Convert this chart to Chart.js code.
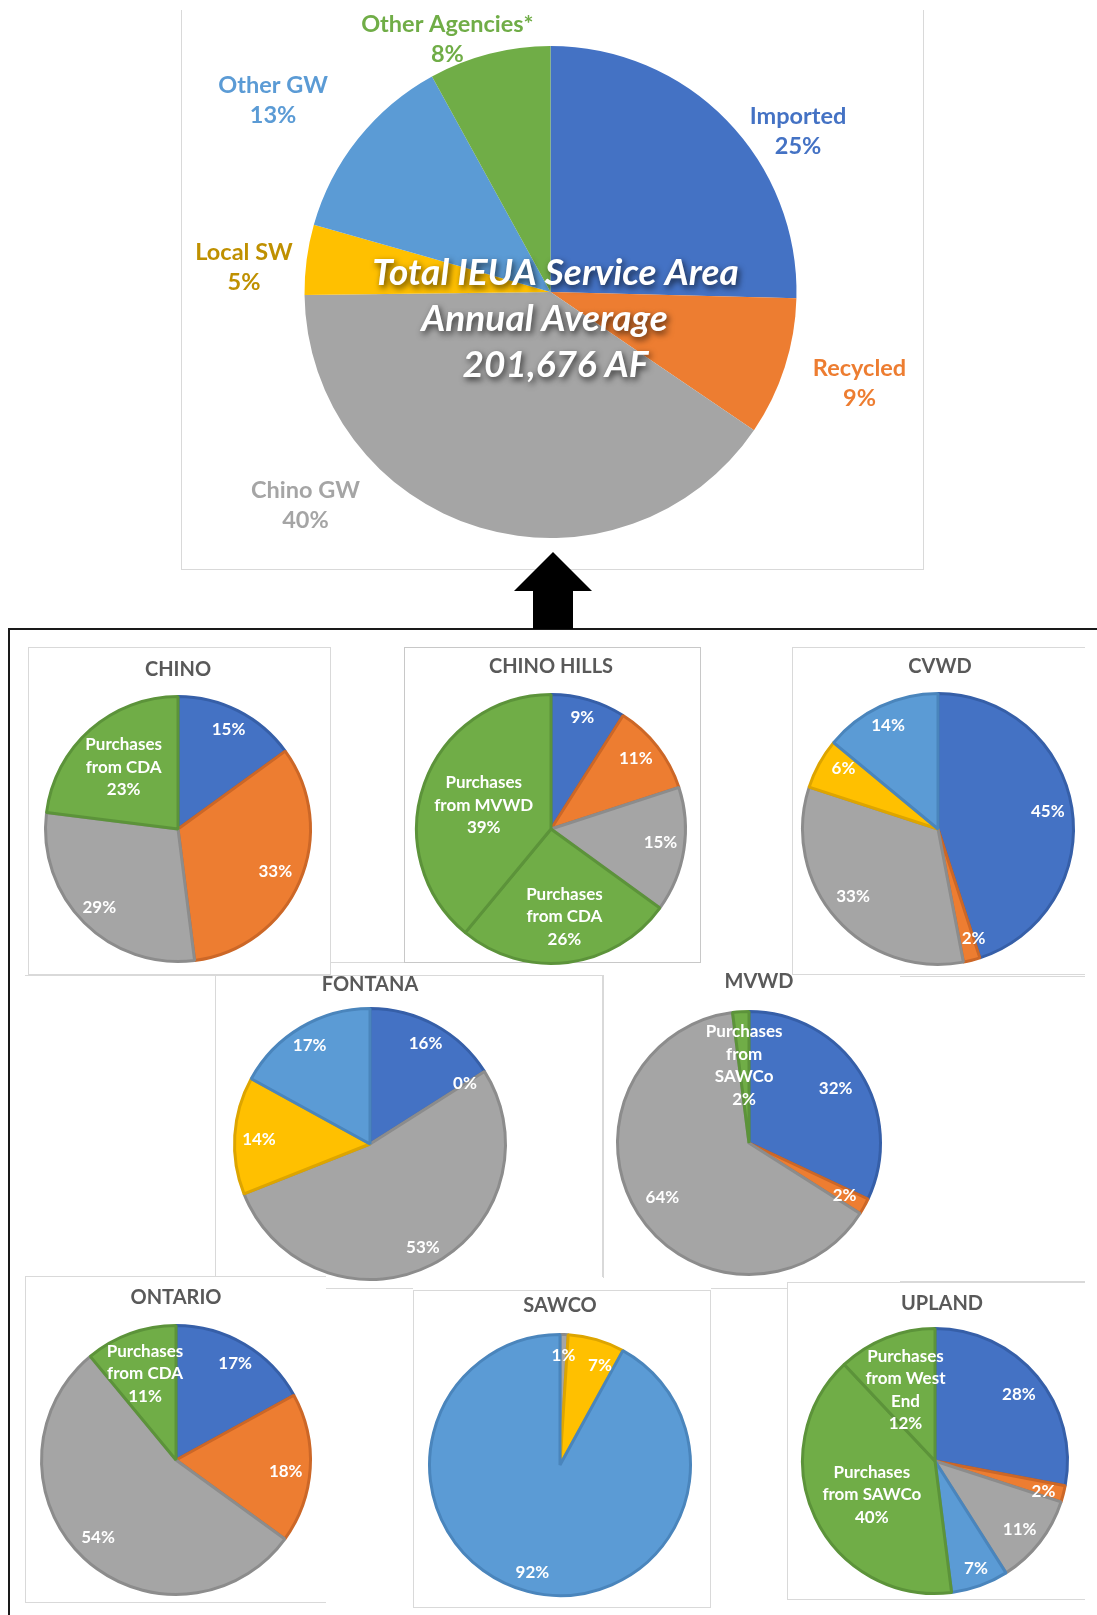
<!DOCTYPE html>
<html>
<head>
<meta charset="utf-8">
<script src="https://cdn.jsdelivr.net/npm/chart.js@4"></script>
<style>
  body { margin: 0; background: #fff; width: 1097px; height: 1615px; position: relative; overflow: hidden; font-family: Lato, sans-serif; }
  .box { position: absolute; box-sizing: border-box; border: 0 solid #d9d9d9; background: #fff; }
  canvas { position: absolute; }
</style>
</head>
<body>
<div id="stage"></div>
<script>
// --- data (percent of supply) ---
const mainCats = ['Imported', 'Recycled', 'Chino GW', 'Local SW', 'Other GW', 'Other Agencies*'];
const mainValues = [25.4, 9.1, 40.3, 4.6, 12.6, 8.0];

const chinoCats = ['Imported', 'Recycled', 'Chino GW', ['Purchases', 'from CDA']];
const chinoValues = [15, 33, 29, 23];

const chinoHillsCats = ['Imported', 'Recycled', 'Chino GW', ['Purchases', 'from CDA'], ['Purchases', 'from MVWD']];
const chinoHillsValues = [9, 11, 15, 26, 39];

const cvwdCats = ['Imported', 'Recycled', 'Chino GW', 'Local SW', 'Other GW'];
const cvwdValues = [45, 2, 33, 6, 14];

const fontanaCats = ['Imported', 'Recycled', 'Chino GW', 'Local SW', 'Other GW'];
const fontanaValues = [16, 0, 53, 14, 17];

const mvwdCats = ['Imported', 'Recycled', 'Chino GW', ['Purchases', 'from', 'SAWCo']];
const mvwdValues = [32, 2, 64, 2];

const ontarioCats = ['Imported', 'Recycled', 'Chino GW', ['Purchases', 'from CDA']];
const ontarioValues = [17, 18, 54, 11];

const sawcoCats = ['Chino GW', 'Local SW', 'Other GW'];
const sawcoValues = [1, 7, 92];

const uplandCats = ['Imported', 'Recycled', 'Chino GW', 'Other GW', ['Purchases', 'from SAWCo'], ['Purchases', 'from West', 'End']];
const uplandValues = [28, 2, 11, 7, 40, 12];

// --- colours ---
const fills = {
  'Imported': '#4472C4', 'Recycled': '#ED7D31', 'Chino GW': '#A5A5A5',
  'Local SW': '#FFC000', 'Other GW': '#5B9BD5', 'purchases': '#70AD47'
};
const edges = {
  'Imported': '#365FA8', 'Recycled': '#CC6727', 'Chino GW': '#8C8C8C',
  'Local SW': '#DDA500', 'Other GW': '#4A85BC', 'purchases': '#5C933A'
};
const mainTextColors = ['#4472C4', '#ED7D31', '#A5A5A5', '#BF9000', '#5B9BD5', '#70AD47'];

function kindOf(cat) {
  return (Array.isArray(cat) || cat === 'Other Agencies*') ? 'purchases' : cat;
}

// label placement around the big pie: angle clockwise from 12 o'clock, distance in radii
const mainLabelAngle = [57, 106.5, 229, 274.5, 304.6, 337.8];
const mainLabelDist = [1.20, 1.31, 1.32, 1.25, 1.37, 1.11];

const stage = document.getElementById('stage');

function addBox(l, t, w, h, sides, color) {
  const d = document.createElement('div');
  d.className = 'box';
  d.style.left = l + 'px'; d.style.top = t + 'px';
  d.style.width = w + 'px'; d.style.height = h + 'px';
  sides.split('').forEach(s => {
    const name = { t: 'Top', r: 'Right', b: 'Bottom', l: 'Left' }[s];
    d.style['border' + name + 'Width'] = '1px';
  });
  if (color) d.style.borderColor = color;
  stage.appendChild(d);
  return d;
}

function addCanvas(l, t, w, h) {
  const c = document.createElement('canvas');
  c.width = w; c.height = h;
  c.style.left = l + 'px'; c.style.top = t + 'px';
  c.style.width = w + 'px'; c.style.height = h + 'px';
  stage.appendChild(c);
  return c;
}

// draws percentages (and names) inside/around the slices
const sliceLabels = {
  id: 'sliceLabels',
  afterLayout(chart, args, opts) {
    // the Excel titles are not always centred over their pie
    if (opts.titleShift && chart.titleBlock) {
      chart.titleBlock.left += opts.titleShift;
      chart.titleBlock.right += opts.titleShift;
    }
  },
  afterDatasetsDraw(chart, args, opts) {
    const meta = chart.getDatasetMeta(0);
    const ctx = chart.ctx;
    const values = chart.data.datasets[0].data;
    ctx.save();
    ctx.textAlign = 'center';
    ctx.textBaseline = 'middle';
    ctx.font = opts.font;
    meta.data.forEach((arc, i) => {
      const p = arc.getProps(['x', 'y', 'startAngle', 'endAngle', 'outerRadius'], true);
      let ang;
      if (opts.angle) {
        ang = (opts.angle[i] - 90) * Math.PI / 180;
      } else {
        ang = (p.startAngle + p.endAngle) / 2 + ((opts.nudge && opts.nudge[i]) || 0) * Math.PI / 180;
      }
      const dist = p.outerRadius * opts.radius[i];
      const lx = p.x + Math.cos(ang) * dist;
      const ly = p.y + Math.sin(ang) * dist;
      const cat = chart.data.labels[i];
      let lines = [];
      if (opts.names || Array.isArray(cat)) lines = lines.concat(cat);
      lines.push(Math.round(values[i]) + '%');
      ctx.fillStyle = opts.colors ? opts.colors[i] : '#fff';
      const y0 = ly - (lines.length - 1) * opts.lineGap / 2;
      lines.forEach((s, k) => ctx.fillText(s, lx, y0 + k * opts.lineGap));
    });
    if (opts.center) {
      const arc = meta.data[0];
      ctx.font = 'italic bold 37px Lato';
      ctx.fillStyle = '#fff';
      ctx.shadowColor = 'rgba(0,0,0,0.7)';
      ctx.shadowBlur = 6;
      ctx.shadowOffsetX = 2;
      ctx.shadowOffsetY = 3;
      const dx = [5, -6, 5];
      opts.center.forEach((s, k) => ctx.fillText(s, arc.x + dx[k], arc.y - 19 + k * 46));
    }
    ctx.restore();
  }
};

function pieDataset(cats, values, bw) {
  const kinds = cats.map(kindOf);
  return {
    labels: cats,
    datasets: [{
      data: values,
      backgroundColor: kinds.map(k => fills[k]),
      borderColor: kinds.map(k => edges[k]),
      borderWidth: bw,
      hoverOffset: 0
    }]
  };
}

// --- frames ---
addBox(181, 10, 743, 560, 'lrb');
addBox(8, 628, 1100, 1000, '').style.border = '2px solid #1a1a1a';
addBox(28, 647, 303, 328, 'tlrb');
addBox(331, 800, 73, 163, 'b');
addBox(404, 647, 297, 316, 'tlrb', '#c8c8c8');
addBox(792, 647, 293, 328, 'tlb');
addBox(25, 975, 190, 301, 't');
addBox(215, 975, 388, 302, 'tlr');
addBox(603, 975, 297, 303, 'l');
addBox(900, 976, 185, 306, 'tb');
addBox(25, 1276, 301, 327, 'tlb');
addBox(326, 1288, 87, 5, 't');
addBox(711, 1288, 76, 5, 't');
addBox(413, 1290, 298, 318, 'tlrb');
addBox(787, 1282, 298, 318, 'tlb');

// arrow
stage.insertAdjacentHTML('beforeend',
  '<svg style="position:absolute;left:0;top:0" width="1097" height="700">' +
  '<polygon points="553,552 514,591 533,591 533,629 573,629 573,591 592,591" fill="#000"/></svg>');

// --- main pie ---
(function () {
  const box = { l: 181, t: 10, w: 743, h: 560 };
  const geo = { cx: 550.5, cy: 292, r: 246 };
  const cnv = addCanvas(box.l, box.t, box.w, box.h);
  new Chart(cnv, {
    type: 'pie',
    data: pieDataset(mainCats, mainValues, 0),
    plugins: [sliceLabels],
    options: {
      responsive: false,
      animation: false,
      layout: {
        padding: {
          left: geo.cx - geo.r - box.l,
          right: box.l + box.w - geo.cx - geo.r,
          top: geo.cy - geo.r - box.t,
          bottom: box.t + box.h - geo.cy - geo.r
        }
      },
      plugins: {
        legend: { display: false },
        tooltip: { enabled: false },
        sliceLabels: {
          font: 'bold 23.5px Lato',
          names: true,
          angle: mainLabelAngle,
          radius: mainLabelDist,
          colors: mainTextColors,
          lineGap: 30,
          center: ['Total IEUA Service Area', 'Annual Average', '201,676 AF']
        }
      }
    }
  });
})();

// --- agency pies ---
const agencies = [
  { title: 'CHINO', cats: chinoCats, values: chinoValues, cx: 178, cy: 829, r: 134, gap: 13,
    radius: [0.84, 0.80, 0.84, 0.62] },
  { title: 'CHINO HILLS', cats: chinoHillsCats, values: chinoHillsValues, cx: 551, cy: 829, r: 136, gap: 14,
    radius: [0.86, 0.82, 0.82, 0.66, 0.53], nudge: [-0.5, -2, -2, -1.5, -0.5] },
  { title: 'CVWD', cats: cvwdCats, values: cvwdValues, cx: 938, cy: 829, r: 137, gap: 13, shift: 2,
    radius: [0.82, 0.85, 0.80, 0.83, 0.85], nudge: [0, -3.6, 3, 4, -0.5] },
  { title: 'FONTANA', cats: fontanaCats, values: fontanaValues, cx: 370, cy: 1144, r: 137, gap: 10,
    radius: [0.85, 0.83, 0.86, 0.82, 0.85], nudge: [0, 0, 0, -1.5, -1] },
  { title: 'MVWD', cats: mvwdCats, values: mvwdValues, cx: 749, cy: 1143, r: 133, gap: 16, shift: 10,
    radius: [0.78, 0.83, 0.78, 0.59] },
  { title: 'ONTARIO', cats: ontarioCats, values: ontarioValues, cx: 176, cy: 1460, r: 136, gap: 14,
    radius: [0.84, 0.82, 0.82, 0.68], nudge: [1, 2.3, 1.8, 0] },
  { title: 'SAWCO', cats: sawcoCats, values: sawcoValues, cx: 560, cy: 1465, r: 132, gap: 15,
    radius: [0.84, 0.82, 0.85], nudge: [0, 5.7, 0] },
  { title: 'UPLAND', cats: uplandCats, values: uplandValues, cx: 935, cy: 1461, r: 134, gap: 11, shift: 7,
    radius: [0.81, 0.85, 0.82, 0.87, 0.54, 0.58], nudge: [1, 1.3, 1, -1, -2.8, -1] }
];

const pad = 4;
const bw = 3;
const titleSize = 20;
agencies.forEach(a => {
  const titleH = titleSize * 1.2 + a.gap;
  const w = 2 * a.r + 2 * pad;
  const h = 2 * a.r + 2 * pad + titleH;
  const cnv = addCanvas(a.cx - a.r - pad, a.cy - a.r - pad - titleH, w, h);
  new Chart(cnv, {
    type: 'pie',
    data: pieDataset(a.cats, a.values, bw),
    plugins: [sliceLabels],
    options: {
      responsive: false,
      animation: false,
      layout: { padding: pad },
      plugins: {
        legend: { display: false },
        tooltip: { enabled: false },
        title: {
          display: true,
          text: a.title,
          color: '#595959',
          font: { family: 'Lato', size: titleSize, weight: 'bold' },
          padding: { top: 0, bottom: a.gap }
        },
        sliceLabels: {
          font: 'bold 17px Lato',
          radius: a.radius,
          nudge: a.nudge,
          lineGap: 22.5,
          titleShift: a.shift || 0
        }
      }
    }
  });
});
</script>
</body>
</html>
